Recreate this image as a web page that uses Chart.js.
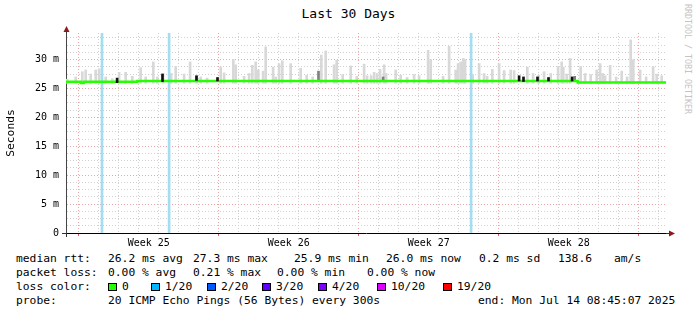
<!DOCTYPE html>
<html>
<head>
<meta charset="utf-8">
<script src="https://cdn.jsdelivr.net/npm/chart.js@4/dist/chart.umd.min.js"></script>
<style>
body { margin: 0; background: #fff; }
#wrap { position: relative; width: 697px; height: 315px; overflow: hidden; background: #fff;
        font-family: 'DejaVu Sans Mono', monospace; font-size: 11.3px; color: #000; }
#chartBox { position: absolute; left: 0; top: 0; width: 697px; height: 252px; }
.t { position: absolute; white-space: pre; line-height: 14px; }
.box { position: absolute; width: 7px; height: 6px; border: 1px solid #000; top: 283px; }
#title { position: absolute; left: 0; width: 697px; top: 6px; text-align: center; font-size: 13px; line-height: 16px; }
#credit { position: absolute; left: 683px; top: 4px; writing-mode: vertical-rl; font-size: 8.3px; color: #c4c4c4; white-space: pre; }
</style>
</head>
<body>
<div id="wrap">
  <div id="title">Last 30 Days</div>
  <div id="credit">RRDTOOL / TOBI OETIKER</div>
  <div id="chartBox"><canvas id="smokeChart" width="697" height="252"></canvas></div>

  <div class="t" style="left:16px;top:252px">median rtt:</div>
  <div class="t" style="left:108px;top:252px">26.2 ms avg</div>
  <div class="t" style="left:193px;top:252px">27.3 ms max</div>
  <div class="t" style="left:294px;top:252px">25.9 ms min</div>
  <div class="t" style="left:386px;top:252px">26.0 ms now</div>
  <div class="t" style="left:479px;top:252px">0.2 ms sd</div>
  <div class="t" style="left:558px;top:252px">138.6</div>
  <div class="t" style="left:614px;top:252px">am/s</div>

  <div class="t" style="left:16px;top:266px">packet loss:</div>
  <div class="t" style="left:108px;top:266px">0.00 % avg</div>
  <div class="t" style="left:193px;top:266px">0.21 % max</div>
  <div class="t" style="left:277px;top:266px">0.00 % min</div>
  <div class="t" style="left:367px;top:266px">0.00 % now</div>

  <div class="t" style="left:16px;top:280px">loss color:</div>
  <div id="lossLegend"></div>

  <div class="t" style="left:16px;top:294px">probe:</div>
  <div class="t" style="left:108px;top:294px">20 ICMP Echo Pings (56 Bytes) every 300s</div>
  <div class="t" style="left:478px;top:294px">end: Mon Jul 14 08:45:07 2025</div>
</div>

<script>
// time axis: days relative to Sun Jun 15 00:00 (graph runs Jun 14 08:45 -> Jul 14 08:45)
const xMin = -0.635;
const xMax = 29.365;
const yMax = 34.6;

const weekLabels = ['Week 25', 'Week 26', 'Week 27', 'Week 28'];
const weekCenters = [3.5, 10.5, 17.5, 24.5];

// smoke (light grey ping spread), top of each bar in ms
const smokeX = [-0.57, -0.15, 0.18, 0.35, 0.60, 0.85, 1.02, 1.35, 1.68, 2.02, 2.35, 2.68, 3.10, 3.35, 3.73, 3.93,
  4.22, 4.62, 4.85, 5.27, 5.57, 5.90, 6.10, 6.42, 7.10, 7.27, 7.73, 7.85, 8.27, 8.52, 8.68, 8.85, 8.98, 9.22, 9.35,
  9.72, 9.85, 10.02, 10.18, 10.60, 11.10, 11.40, 11.70, 12.13, 12.35, 12.77, 12.90, 13.20, 13.60, 13.90, 14.27,
  14.42, 14.62, 14.77, 14.92, 15.07, 15.27, 15.37, 15.85, 16.10, 16.42, 16.77, 17.02, 17.47, 17.60, 18.22, 18.52,
  18.85, 18.97, 19.10, 19.23, 19.32, 19.70, 20.02, 20.27, 20.42, 20.68, 21.02, 21.27, 21.60, 21.77, 22.43, 22.72,
  23.00, 23.27, 23.60, 23.97, 24.15, 24.23, 24.40, 24.57, 25.10, 25.32, 25.60, 25.90, 26.07, 26.20, 26.32, 26.57,
  26.87, 27.15, 27.42, 27.60, 27.73, 28.07, 28.37, 28.72, 28.90, 29.15];
const smokeTop = [26.6, 27.0, 27.9, 28.2, 27.5, 28.2, 28.4, 27.0, 26.7, 27.8, 27.8, 27.1, 28.6, 27.0, 29.6, 27.0,
  27.6, 27.6, 28.8, 27.5, 29.6, 27.2, 27.0, 26.8, 28.7, 27.7, 30.0, 29.1, 27.1, 27.6, 29.0, 29.6, 28.2, 28.0, 32.2,
  28.7, 27.0, 29.3, 29.8, 29.3, 28.5, 27.3, 27.0, 30.8, 31.5, 29.1, 29.9, 27.4, 28.9, 27.1, 29.2,
  27.2, 27.2, 27.8, 27.6, 28.3, 29.1, 27.6, 28.2, 27.3, 26.9, 27.4, 27.2, 31.6, 30.0, 27.1, 32.3,
  28.2, 29.3, 29.6, 30.2, 30.0, 27.4, 29.3, 27.6, 27.1, 28.3, 29.3, 28.1, 28.2, 28.1, 28.7, 27.6,
  27.3, 27.9, 27.6, 28.8, 29.6, 28.7, 27.5, 30.2, 28.8, 27.6, 27.4, 28.2, 29.3, 27.6, 27.2, 29.0,
  27.0, 28.0, 27.0, 33.4, 30.0, 28.2, 27.0, 28.8, 27.5, 27.2];
const smokeBase = 25.9;

// darker smoke and black spikes: [low, high] in ms
const greyX = [11.99, 15.22, 24.80];
const greyLo = [26.4, 26.4, 26.4];
const greyHi = [28.0, 27.0, 27.1];
const blackX = [1.92, 4.19, 5.89, 6.94, 22.02, 22.24, 22.94, 23.49, 24.67];
const blackLo = [26.0, 26.2, 26.4, 26.3, 26.3, 26.2, 26.3, 26.3, 26.3];
const blackHi = [26.8, 27.5, 27.2, 26.9, 27.2, 27.0, 27.0, 26.9, 27.0];

// median rtt (ms), each value holds until the next point
const medianX = [xMin, 0.10, 0.25, 2.92, 24.95, xMax];
const medianVal = [26.15, 25.95, 26.15, 26.3, 26.05, 26.05];

// packet loss events (1/20)
const lossX = [1.165, 4.52, 19.62];

const lossLabels = ['0', '1/20', '2/20', '3/20', '4/20', '10/20', '19/20'];
const lossColors = ['#26ff00', '#00b8ff', '#0059ff', '#5e00ff', '#7e00ff', '#dd00ff', '#ff0000'];
const lossBoxX = [108, 151, 207, 262, 318, 377, 443];

// loss color legend
const legend = document.getElementById('lossLegend');
lossLabels.forEach(function (lab, i) {
    const b = document.createElement('div');
    b.className = 'box';
    b.style.left = lossBoxX[i] + 'px';
    b.style.background = lossColors[i];
    legend.appendChild(b);
    const t = document.createElement('div');
    t.className = 't';
    t.style.left = (lossBoxX[i] + 14) + 'px';
    t.style.top = '280px';
    t.textContent = lab;
    legend.appendChild(t);
});

const MONO = 'DejaVu Sans Mono';
const RED_GRID = '#e8a8a8';
const GREY_GRID = '#d0d0d0';

const xTicks = [];
for (let d = 0; d <= 29; d++) xTicks.push(d);
weekCenters.forEach(v => xTicks.push(v));
xTicks.sort((a, b) => a - b);

const yTicks = [];
for (let v = 0; v <= yMax; v += 1.25) yTicks.push(v);

const axisArrows = {
    id: 'axisArrows',
    afterDraw(chart) {
        const { ctx, chartArea: a } = chart;
        const lx = a.left + 0.5, by = a.bottom + 0.5;
        ctx.save();
        ctx.strokeStyle = '#333';
        ctx.lineWidth = 1;
        ctx.beginPath();
        ctx.moveTo(lx, a.top); ctx.lineTo(lx, a.top - 3);
        ctx.moveTo(lx, a.bottom); ctx.lineTo(lx, a.bottom + 4);
        ctx.moveTo(a.left - 4, by); ctx.lineTo(a.left, by);
        ctx.moveTo(a.right, by); ctx.lineTo(a.right + 3, by);
        ctx.stroke();
        ctx.fillStyle = '#8b1a1a';
        ctx.beginPath();
        ctx.moveTo(lx - 3, a.top - 1); ctx.lineTo(lx + 3, a.top - 1); ctx.lineTo(lx, a.top - 7);
        ctx.closePath(); ctx.fill();
        ctx.beginPath();
        ctx.moveTo(a.right + 3, by - 3); ctx.lineTo(a.right + 3, by + 3); ctx.lineTo(a.right + 9, by);
        ctx.closePath(); ctx.fill();
        ctx.restore();
    }
};

const ctx = document.getElementById('smokeChart').getContext('2d');
new Chart(ctx, {
    type: 'bar',
    data: {
        datasets: [
            {
                type: 'bar', label: 'smoke', order: 5, grouped: false, barThickness: 2,
                backgroundColor: '#d8d8d8',
                data: smokeX.map((x, i) => ({ x: x, y: [smokeBase, smokeTop[i]] }))
            },
            {
                type: 'bar', label: 'smoke dark', order: 4, grouped: false, barThickness: 2,
                backgroundColor: '#808080',
                data: greyX.map((x, i) => ({ x: x, y: [greyLo[i], greyHi[i]] }))
            },
            {
                type: 'bar', label: 'loss', order: 3, grouped: false, barThickness: 2,
                backgroundColor: '#a4dcf0',
                data: lossX.map(x => ({ x: x, y: [0, yMax] }))
            },
            {
                type: 'line', label: 'median rtt', order: 2, stepped: true,
                borderColor: lossColors[0], borderWidth: 2.5, pointRadius: 0, fill: false,
                data: medianX.map((x, i) => ({ x: x, y: medianVal[i] }))
            },
            {
                type: 'bar', label: 'spikes', order: 1, grouped: false, barThickness: 2,
                backgroundColor: '#111',
                data: blackX.map((x, i) => ({ x: x, y: [blackLo[i], blackHi[i]] }))
            }
        ]
    },
    options: {
        responsive: false,
        animation: false,
        layout: { padding: { top: 33, right: 31, left: 0, bottom: 0 } },
        plugins: { legend: { display: false }, tooltip: { enabled: false }, title: { display: false } },
        scales: {
            x: {
                type: 'linear', min: xMin, max: xMax, offset: false,
                afterBuildTicks: s => { s.ticks = xTicks.map(v => ({ value: v })); },
                afterFit: s => { s.height = 19; },
                ticks: {
                    autoSkip: false, maxRotation: 0, padding: 1, color: '#000',
                    font: { family: MONO, size: 10 },
                    callback: v => { const i = weekCenters.indexOf(v); return i >= 0 ? weekLabels[i] : ''; }
                },
                grid: {
                    offset: false, tickLength: 3, lineWidth: 1,
                    color: c => {
                        const v = c.tick.value;
                        if (!Number.isInteger(v)) return 'rgba(0,0,0,0)';
                        return v % 7 === 0 ? RED_GRID : GREY_GRID;
                    },
                    tickColor: c => (Number.isInteger(c.tick.value) && c.tick.value % 7 === 0) ? '#e06060' : 'rgba(0,0,0,0)'
                },
                border: { color: '#000', width: 1, dash: [1, 2] }
            },
            y: {
                min: 0, max: yMax,
                afterBuildTicks: s => { s.ticks = yTicks.map(v => ({ value: v })); },
                afterFit: s => { s.width = 66; },
                ticks: {
                    autoSkip: false, padding: 7, color: '#000',
                    font: { family: MONO, size: 10 },
                    callback: v => v % 5 === 0 ? (v === 0 ? '0' : v + ' m') : ''
                },
                grid: {
                    drawTicks: false, lineWidth: 1,
                    color: c => c.tick.value % 5 === 0 ? RED_GRID : GREY_GRID
                },
                border: { color: '#444', width: 1, dash: [1, 2] },
                title: {
                    display: true, text: 'Seconds', color: '#000',
                    font: { family: MONO, size: 11.3 },
                    padding: { top: 4, bottom: 0 }
                }
            }
        }
    },
    plugins: [axisArrows]
});
</script>
</body>
</html>
